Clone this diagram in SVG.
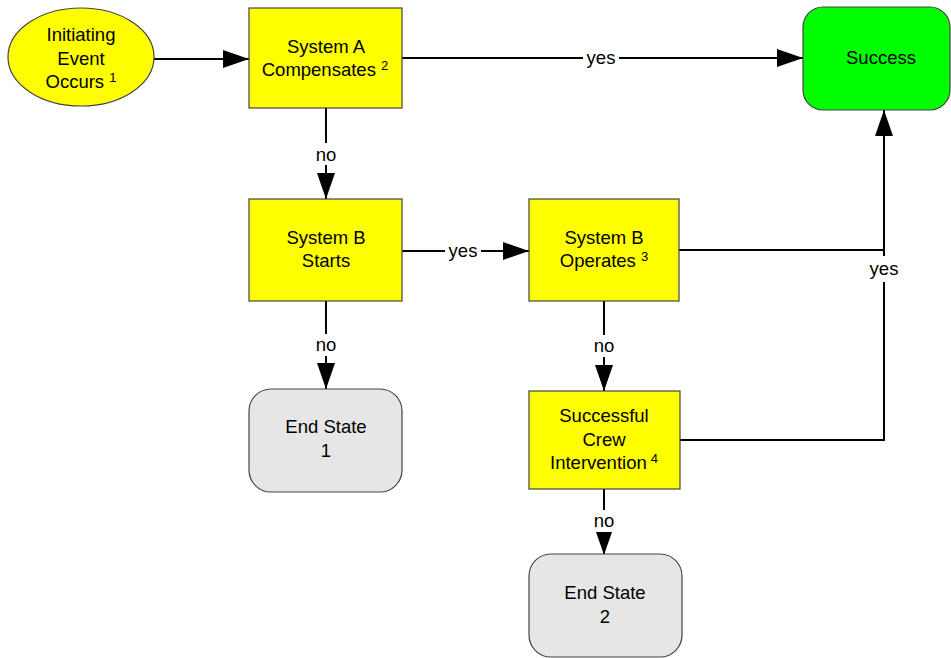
<svg xmlns="http://www.w3.org/2000/svg" width="951" height="658" viewBox="0 0 951 658">
  <defs>
    <marker id="arrow" viewBox="0 0 26 18" refX="26" refY="9" markerWidth="26" markerHeight="18" markerUnits="userSpaceOnUse" orient="auto">
      <path d="M0,0 L26,9 L0,18 Z" fill="#000"/>
    </marker>
  </defs>
  <style>
    .box { fill: #ffff00; stroke: #444; stroke-width: 1.2; }
    .end { fill: #e6e6e6; stroke: #444; stroke-width: 1.2; }
    .ok { fill: #00ff00; stroke: #444; stroke-width: 1.2; }
    .t { font-family: "Liberation Sans", Arial, sans-serif; font-size: 18.5px; fill: #000; text-anchor: middle; }
    .sup { font-size: 13px; }
    .edge { fill: none; stroke: #000; stroke-width: 2; }
    .lbl { font-family: "Liberation Sans", Arial, sans-serif; font-size: 18.5px; fill: #000; text-anchor: middle; }
    .bg { fill: #fff; }
  </style>
  <rect width="951" height="658" fill="#fff"/>

  <g id="connectors">
    <path class="edge" d="M154,59 H249" marker-end="url(#arrow)"/>
    <path class="edge" d="M402,58 H803" marker-end="url(#arrow)"/>
    <rect class="bg" x="583" y="46" width="36" height="22"/>
    <text class="lbl" x="601" y="64">yes</text>
    <path class="edge" d="M326,108 V199" marker-end="url(#arrow)"/>
    <rect class="bg" x="312" y="143" width="28" height="22"/>
    <text class="lbl" x="326" y="161">no</text>
    <path class="edge" d="M402,251 H529" marker-end="url(#arrow)"/>
    <rect class="bg" x="445" y="240" width="36" height="22"/>
    <text class="lbl" x="463" y="257">yes</text>
    <path class="edge" d="M326,301 V389" marker-end="url(#arrow)"/>
    <rect class="bg" x="312" y="334" width="28" height="22"/>
    <text class="lbl" x="326" y="351">no</text>
    <path class="edge" d="M679,250 H884"/>
    <path class="edge" d="M680,440 H884 V110" marker-end="url(#arrow)"/>
    <rect class="bg" x="866" y="256" width="36" height="26"/>
    <text class="lbl" x="884" y="275">yes</text>
    <path class="edge" d="M604,301 V391" marker-end="url(#arrow)"/>
    <rect class="bg" x="590" y="335" width="28" height="22"/>
    <text class="lbl" x="604" y="352">no</text>
    <path class="edge" d="M604,489 V555" marker-end="url(#arrow)"/>
    <rect class="bg" x="590" y="510" width="28" height="22"/>
    <text class="lbl" x="604" y="527">no</text>
  </g>

  <g id="initiating-event">
    <ellipse cx="81" cy="57" rx="73" ry="49" class="box"/>
    <text class="t" x="81" y="41">Initiating</text>
    <text class="t" x="81" y="65">Event</text>
    <text class="t" x="81" y="88">Occurs <tspan class="sup" dy="-6">1</tspan></text>
  </g>

  <g id="system-a">
    <rect class="box" x="249" y="8" width="153" height="100"/>
    <text class="t" x="326" y="53">System A</text>
    <text class="t" x="325" y="76">Compensates <tspan class="sup" dy="-6">2</tspan></text>
  </g>

  <g id="success">
    <rect class="ok" x="803" y="7" width="147" height="103" rx="20" ry="20"/>
    <text class="t" x="881" y="64">Success</text>
  </g>

  <g id="system-b-starts">
    <rect class="box" x="249" y="199" width="153" height="102"/>
    <text class="t" x="326" y="244">System B</text>
    <text class="t" x="326" y="267">Starts</text>
  </g>

  <g id="system-b-operates">
    <rect class="box" x="529" y="199" width="150" height="102"/>
    <text class="t" x="604" y="244">System B</text>
    <text class="t" x="604" y="267">Operates <tspan class="sup" dy="-6">3</tspan></text>
  </g>

  <g id="end-state-1">
    <rect class="end" x="249" y="389" width="153" height="103" rx="22" ry="22"/>
    <text class="t" x="326" y="433">End State</text>
    <text class="t" x="326" y="457">1</text>
  </g>

  <g id="crew-intervention">
    <rect class="box" x="529" y="391" width="151" height="98"/>
    <text class="t" x="604" y="422">Successful</text>
    <text class="t" x="604" y="446">Crew</text>
    <text class="t" x="604" y="469">Intervention<tspan class="sup" dx="4" dy="-6">4</tspan></text>
  </g>

  <g id="end-state-2">
    <rect class="end" x="529" y="554" width="153" height="103" rx="22" ry="22"/>
    <text class="t" x="605" y="599">End State</text>
    <text class="t" x="605" y="623">2</text>
  </g>
</svg>
